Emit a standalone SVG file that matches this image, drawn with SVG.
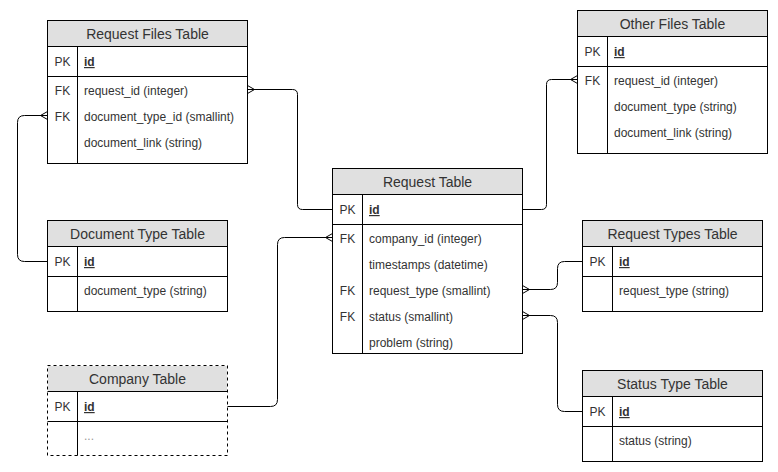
<svg xmlns="http://www.w3.org/2000/svg" width="778" height="472" viewBox="0 0 778 472">
<style>
  .box{fill:#fff;stroke:#000;stroke-width:1}
  .hdr{fill:#e0e0e0;stroke:none}
  .ln{stroke:#000;stroke-width:1;fill:none}
  .dash{stroke-dasharray:3 3}
  .title{font-family:"Liberation Sans",Arial,sans-serif;font-size:14px;fill:#333;text-anchor:middle}
  .key{font-family:"Liberation Sans",Arial,sans-serif;font-size:12px;fill:#333;text-anchor:middle}
  .fld{font-family:"Liberation Sans",Arial,sans-serif;font-size:12px;fill:#333}
  .pk{font-weight:bold;text-decoration:underline}
  .muted{fill:#999}
  .conn{stroke:#000;stroke-width:1;fill:none}
</style>
<defs>
  <marker id="many" markerUnits="userSpaceOnUse" viewBox="-10 -6 12 12" refX="0" refY="0" markerWidth="12" markerHeight="12" orient="auto-start-reverse">
    <path d="M-7,0 L0,-4 M-7,0 L0,4" fill="none" stroke="#000" stroke-width="1"/>
  </marker>
</defs>
<rect width="778" height="472" fill="#fff"/>

<g id="request-files-table">
  <rect class="box" x="47.5" y="20.5" width="200" height="143"/>
  <rect class="hdr" x="48" y="21" width="199" height="25.5"/>
  <path class="ln" d="M47.5,46.5 H247.5 M47.5,76.5 H247.5 M77.5,46.5 V163.5"/>
  <text class="title" x="147.5" y="39">Request Files Table</text>
  <text class="key" x="62.5" y="66">PK</text>
  <text class="fld pk" x="84" y="66">id</text>
  <text class="key" x="62.5" y="95">FK</text>
  <text class="fld" x="84" y="95">request_id (integer)</text>
  <text class="key" x="62.5" y="121">FK</text>
  <text class="fld" x="84" y="121">document_type_id (smallint)</text>
  <text class="fld" x="84" y="147">document_link (string)</text>
</g>

<g id="other-files-table">
  <rect class="box" x="577.5" y="10.5" width="190" height="143"/>
  <rect class="hdr" x="578" y="11" width="189" height="25.5"/>
  <path class="ln" d="M577.5,36.5 H767.5 M577.5,66.5 H767.5 M607.5,36.5 V153.5"/>
  <text class="title" x="672.5" y="29">Other Files Table</text>
  <text class="key" x="592.5" y="56">PK</text>
  <text class="fld pk" x="614" y="56">id</text>
  <text class="key" x="592.5" y="85">FK</text>
  <text class="fld" x="614" y="85">request_id (integer)</text>
  <text class="fld" x="614" y="111">document_type (string)</text>
  <text class="fld" x="614" y="137">document_link (string)</text>
</g>

<g id="request-table">
  <rect class="box" x="332.5" y="168.5" width="190" height="185"/>
  <rect class="hdr" x="333" y="169" width="189" height="25.5"/>
  <path class="ln" d="M332.5,194.5 H522.5 M332.5,224.5 H522.5 M362.5,194.5 V353.5"/>
  <text class="title" x="427.5" y="187">Request Table</text>
  <text class="key" x="347.5" y="214">PK</text>
  <text class="fld pk" x="369" y="214">id</text>
  <text class="key" x="347.5" y="243">FK</text>
  <text class="fld" x="369" y="243">company_id (integer)</text>
  <text class="fld" x="369" y="269">timestamps (datetime)</text>
  <text class="key" x="347.5" y="295">FK</text>
  <text class="fld" x="369" y="295">request_type (smallint)</text>
  <text class="key" x="347.5" y="321">FK</text>
  <text class="fld" x="369" y="321">status (smallint)</text>
  <text class="fld" x="369" y="347">problem (string)</text>
</g>

<g id="document-type-table">
  <rect class="box" x="47.5" y="220.5" width="180" height="91"/>
  <rect class="hdr" x="48" y="221" width="179" height="25.5"/>
  <path class="ln" d="M47.5,246.5 H227.5 M47.5,276.5 H227.5 M77.5,246.5 V311.5"/>
  <text class="title" x="137.5" y="239">Document Type Table</text>
  <text class="key" x="62.5" y="266">PK</text>
  <text class="fld pk" x="84" y="266">id</text>
  <text class="fld" x="84" y="295">document_type (string)</text>
</g>

<g id="company-table">
  <rect class="hdr" x="48" y="366" width="179" height="25.5"/>
  <rect class="box dash" x="47.5" y="365.5" width="180" height="90" style="fill:none"/>
  <path class="ln" d="M47.5,391.5 H227.5 M47.5,421.5 H227.5 M77.5,391.5 V455.5"/>
  <text class="title" x="137.5" y="384">Company Table</text>
  <text class="key" x="62.5" y="411">PK</text>
  <text class="fld pk" x="84" y="411">id</text>
  <text class="fld muted" x="84" y="440">...</text>
</g>

<g id="request-types-table">
  <rect class="box" x="582.5" y="220.5" width="180" height="91"/>
  <rect class="hdr" x="583" y="221" width="179" height="25.5"/>
  <path class="ln" d="M582.5,246.5 H762.5 M582.5,276.5 H762.5 M612.5,246.5 V311.5"/>
  <text class="title" x="672.5" y="239">Request Types Table</text>
  <text class="key" x="597.5" y="266">PK</text>
  <text class="fld pk" x="619" y="266">id</text>
  <text class="fld" x="619" y="295">request_type (string)</text>
</g>

<g id="status-type-table">
  <rect class="box" x="582.5" y="370.5" width="180" height="91"/>
  <rect class="hdr" x="583" y="371" width="179" height="25.5"/>
  <path class="ln" d="M582.5,396.5 H762.5 M582.5,426.5 H762.5 M612.5,396.5 V461.5"/>
  <text class="title" x="672.5" y="389">Status Type Table</text>
  <text class="key" x="597.5" y="416">PK</text>
  <text class="fld pk" x="619" y="416">id</text>
  <text class="fld" x="619" y="445">status (string)</text>
</g>

<g id="connectors">
  <path class="conn" marker-start="url(#many)" d="M247.5,89.5 H292.5 Q297.5,89.5 297.5,94.5 V204.5 Q297.5,209.5 302.5,209.5 H332.5"/>
  <path class="conn" marker-end="url(#many)" d="M522.5,209.5 H541.5 Q546.5,209.5 546.5,204.5 V84.5 Q546.5,79.5 551.5,79.5 H577.5"/>
  <path class="conn" marker-start="url(#many)" d="M47.5,115.5 H24.5 Q17.5,115.5 17.5,122.5 V254.5 Q17.5,261.5 24.5,261.5 H47.5"/>
  <path class="conn" marker-start="url(#many)" d="M332.5,237.5 H284.5 Q277.5,237.5 277.5,244.5 V399.5 Q277.5,406.5 270.5,406.5 H227.5"/>
  <path class="conn" marker-start="url(#many)" d="M522.5,289.5 H550.5 Q557.5,289.5 557.5,282.5 V268.5 Q557.5,261.5 564.5,261.5 H582.5"/>
  <path class="conn" marker-start="url(#many)" d="M522.5,315.5 H550.5 Q557.5,315.5 557.5,322.5 V404.5 Q557.5,411.5 564.5,411.5 H582.5"/>
</g>
</svg>
